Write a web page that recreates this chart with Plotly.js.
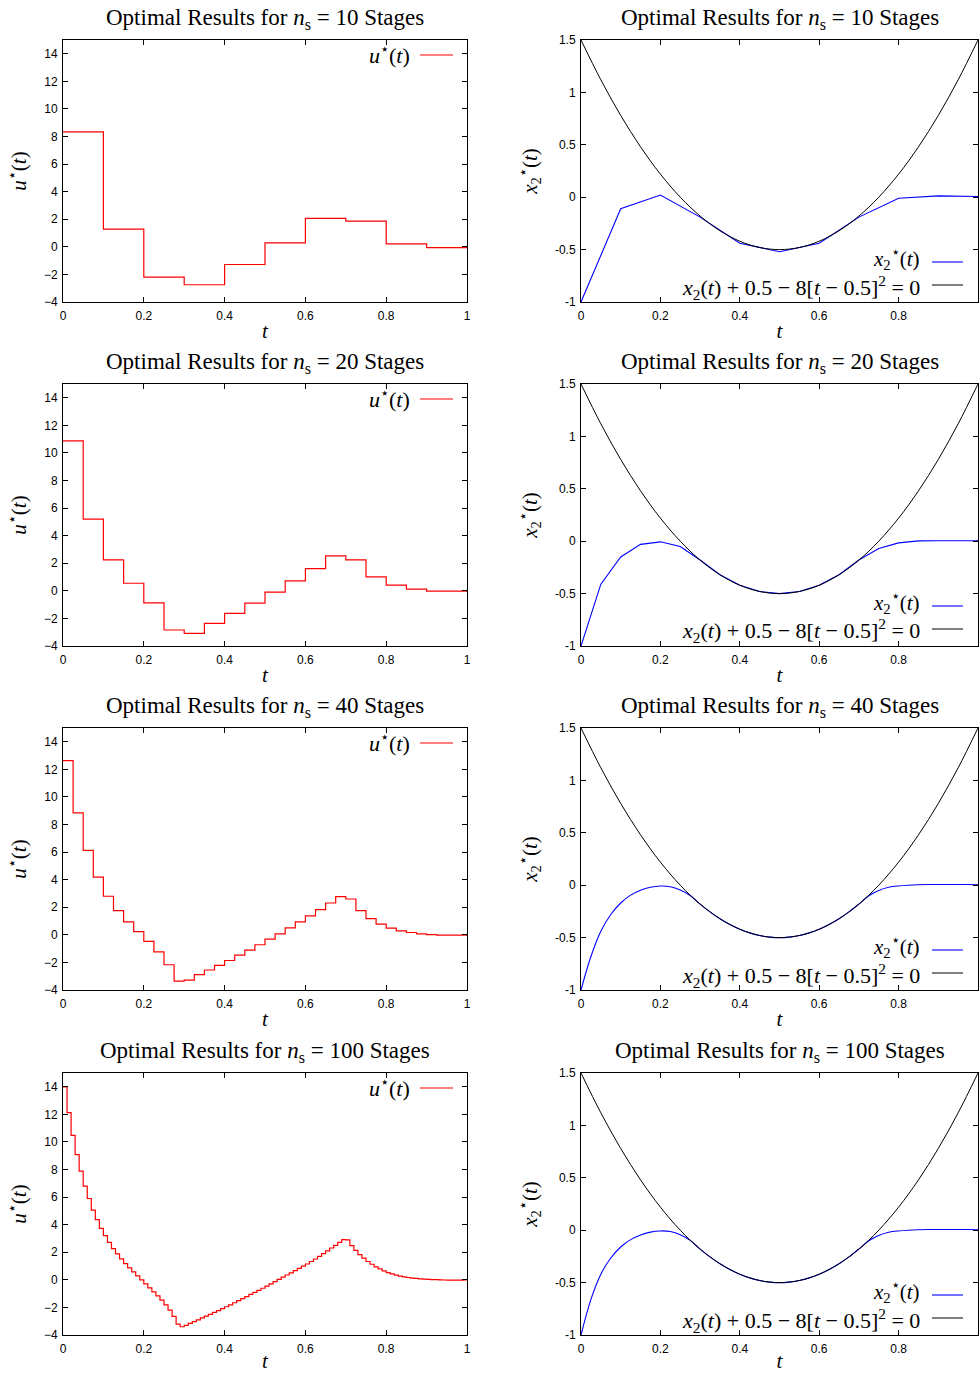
<!DOCTYPE html>
<html>
<head>
<meta charset="utf-8">
<script src="https://cdn.plot.ly/plotly-3.0.1.min.js"></script>
<style>
html,body{margin:0;padding:0;background:#fff;}
#chart{width:980px;height:1373px;}
</style>
</head>
<body>
<div id="chart"></div>
<script>
// ---------------- data ----------------
const stageCounts = [10, 20, 40, 100];

const u10 = [8.34, 1.28, -2.19, -2.75, -1.28, 0.29, 2.07, 1.86, 0.22, -0.05];

const u20 = [10.87, 5.2, 2.24, 0.55, -0.87, -2.84, -3.08, -2.36, -1.64, -0.89,
             -0.1, 0.72, 1.61, 2.53, 2.24, 1.01, 0.41, 0.12, -0.02, -0.02];

const u40 = [12.63, 8.84, 6.12, 4.19, 2.8, 1.76, 0.94, 0.24, -0.48, -1.23,
             -2.17, -3.35, -3.28, -2.89, -2.55, -2.22, -1.86, -1.47, -1.11, -0.72,
             -0.31, 0.07, 0.51, 0.94, 1.37, 1.83, 2.31, 2.77, 2.6, 1.76,
             1.18, 0.77, 0.48, 0.29, 0.17, 0.07, 0.02, -0.02, -0.02, -0.02];

const u100 = [14.0, 12.12, 10.48, 9.08, 7.88, 6.8, 5.9, 5.06, 4.36, 3.73,
              3.2, 2.72, 2.26, 1.88, 1.52, 1.18, 0.87, 0.58, 0.29, 0.0,
              -0.29, -0.58, -0.87, -1.16, -1.47, -1.81, -2.2, -2.65, -3.21, -3.4,
              -3.3, -3.16, -3.03, -2.9, -2.76, -2.63, -2.5, -2.36, -2.23, -2.09,
              -1.95, -1.81, -1.66, -1.51, -1.36, -1.21, -1.06, -0.91, -0.76, -0.61,
              -0.45, -0.29, -0.13, 0.03, 0.19, 0.35, 0.51, 0.67, 0.83, 0.99,
              1.15, 1.33, 1.51, 1.7, 1.9, 2.1, 2.31, 2.5, 2.72, 2.92,
              2.9, 2.48, 2.14, 1.83, 1.57, 1.33, 1.13, 0.94, 0.8, 0.65,
              0.53, 0.43, 0.34, 0.27, 0.22, 0.17, 0.13, 0.1, 0.07, 0.05,
              0.03, 0.02, 0.01, 0.0, -0.01, -0.02, -0.02, -0.02, -0.02, -0.01];

// x2*(t) at stage boundaries
const x2_10 = [-1, -0.11, 0.02, -0.19, -0.44, -0.52, -0.44, -0.19, -0.01, 0.013, 0.006];
const x2_20 = [-1, -0.41, -0.15, -0.03, -0.006, -0.05, -0.18, -0.32, -0.42, -0.48, -0.5,
               -0.48, -0.42, -0.32, -0.18, -0.07, -0.016, 0.003, 0.005, 0.005, 0.005];

// x2*(t) for finer discretisations, sampled every 0.025
const tFine = [0, 0.025, 0.05, 0.075, 0.1, 0.125, 0.15, 0.175, 0.2, 0.225,
               0.25, 0.275, 0.3, 0.325, 0.35, 0.375, 0.4, 0.425, 0.45, 0.475,
               0.5, 0.525, 0.55, 0.575, 0.6, 0.625, 0.65, 0.675, 0.7, 0.725,
               0.75, 0.775, 0.8, 0.825, 0.85, 0.875, 0.9, 0.925, 0.95, 0.975, 1.0];
const x2_40 = [-1, -0.68, -0.44, -0.28, -0.17, -0.095, -0.048, -0.02, -0.008, -0.014,
               -0.045, -0.098, -0.18, -0.255, -0.32, -0.375, -0.42, -0.455, -0.48, -0.495,
               -0.5, -0.495, -0.48, -0.455, -0.42, -0.375, -0.32, -0.255, -0.18, -0.1,
               -0.05, -0.02, -0.007, 0.0, 0.004, 0.006, 0.007, 0.007, 0.007, 0.006, 0.005];
const x2_100 = [-1, -0.66, -0.42, -0.265, -0.16, -0.09, -0.045, -0.018, -0.007, -0.013,
                -0.043, -0.097, -0.18, -0.255, -0.32, -0.375, -0.42, -0.455, -0.48, -0.495,
                -0.5, -0.495, -0.48, -0.455, -0.42, -0.375, -0.32, -0.255, -0.18, -0.1,
                -0.05, -0.02, -0.007, 0.0, 0.004, 0.006, 0.007, 0.007, 0.007, 0.006, 0.005];

// path constraint x2 = 8(t-0.5)^2 - 0.5, sampled every 0.05
const tCon = [0, 0.05, 0.1, 0.15, 0.2, 0.25, 0.3, 0.35, 0.4, 0.45, 0.5,
              0.55, 0.6, 0.65, 0.7, 0.75, 0.8, 0.85, 0.9, 0.95, 1.0];
const xCon = [1.5, 1.12, 0.78, 0.48, 0.22, 0, -0.18, -0.32, -0.42, -0.48, -0.5,
              -0.48, -0.42, -0.32, -0.18, 0, 0.22, 0.48, 0.78, 1.12, 1.5];

const xTicks = [0, 0.2, 0.4, 0.6, 0.8, 1];
const xTickText = ['0', '0.2', '0.4', '0.6', '0.8', '1'];
const uTicks = [-4, -2, 0, 2, 4, 6, 8, 10, 12, 14];
const x2Ticks = [-1, -0.5, 0, 0.5, 1, 1.5];
const x2TickText = ['-1', '-0.5', '0', '0.5', '1', '1.5'];

// ---------------- layout helpers ----------------
const W = 980, H = 1373;
const px = x => x / W;
const py = y => 1 - y / H;
const rowTop = [40, 384, 728, 1073];
const rowH = 262;
const leftX = [63, 467], rightX = [581, 978];

const uSeries = [u10, u20, u40, u100];
const tSeries = [null, null, tFine, tFine];
const x2Series = [x2_10, x2_20, x2_40, x2_100];

const serif = 'Liberation Serif, Times New Roman, serif';
const sans = 'Liberation Sans, Arial, sans-serif';

const traces = [];
const layout = {
  width: W, height: H,
  margin: {l: 0, r: 0, t: 0, b: 0},
  paper_bgcolor: '#fff', plot_bgcolor: '#fff',
  showlegend: false,
  annotations: [], shapes: []
};

function axisCommon(extra) {
  return Object.assign({
    showline: true, linecolor: '#000', linewidth: 1, mirror: 'allticks',
    ticks: 'inside', ticklen: 5, tickcolor: '#000', tickwidth: 1,
    showgrid: false, zeroline: false, fixedrange: true,
    tickfont: {family: sans, size: 12, color: '#000'}
  }, extra);
}

for (let r = 0; r < 4; r++) {
  const n = stageCounts[r];
  const top = rowTop[r], bot = top + rowH;
  const ia = 2 * r + 1, ib = 2 * r + 2;
  const yDom = [py(bot), py(top)];

  // stage grid
  const grid = [];
  for (let i = 0; i <= n; i++) grid.push(i / n);
  const uv = uSeries[r].concat([uSeries[r][n - 1]]);

  traces.push({
    x: grid, y: uv, type: 'scatter', mode: 'lines', line: {shape: 'hv', color: '#ff0000', width: 1.2},
    xaxis: 'x' + ia, yaxis: 'y' + ia, name: 'u*(t)', hoverinfo: 'skip'
  });

  const tx = tSeries[r] || grid;
  traces.push({
    x: tx, y: x2Series[r], type: 'scatter', mode: 'lines',
    line: {color: '#0000ff', width: 1.1, shape: tSeries[r] ? 'spline' : 'linear', smoothing: 1},
    xaxis: 'x' + ib, yaxis: 'y' + ib, name: 'x2*(t)', hoverinfo: 'skip'
  });
  traces.push({
    x: tCon, y: xCon, type: 'scatter', mode: 'lines',
    line: {color: '#000000', width: 1, shape: 'spline', smoothing: 1},
    xaxis: 'x' + ib, yaxis: 'y' + ib, name: 'constraint', hoverinfo: 'skip'
  });

  const xa = {
    range: [0, 1], tickvals: xTicks, ticktext: xTickText, ticklabelstandoff: 3,
    title: {text: '<i>t</i>', font: {family: serif, size: 21, color: '#000'}, standoff: 0}
  };
  layout['xaxis' + ia] = axisCommon(Object.assign({domain: [px(leftX[0]), px(leftX[1])], anchor: 'y' + ia}, xa));
  layout['xaxis' + ib] = axisCommon(Object.assign({domain: [px(rightX[0]), px(rightX[1])], anchor: 'y' + ib}, JSON.parse(JSON.stringify(xa))));
  layout['yaxis' + ia] = axisCommon({
    domain: yDom, anchor: 'x' + ia, range: [-4, 15], tickvals: uTicks, ticklabelstandoff: 2,
    title: {text: '<i>u</i><sup>⋆</sup>(<i>t</i>)', font: {family: serif, size: 21, color: '#000'}, standoff: 11}
  });
  layout['yaxis' + ib] = axisCommon({
    domain: yDom, anchor: 'x' + ib, range: [-1, 1.5], tickvals: x2Ticks, ticktext: x2TickText, ticklabelstandoff: 2,
    title: {text: '<i>x</i><sub>2</sub><sup>⋆</sup>(<i>t</i>)', font: {family: serif, size: 21, color: '#000'}, standoff: 11}
  });

  const titleText = 'Optimal Results for <i>n</i><sub>s</sub> = ' + n + ' Stages';
  [leftX, rightX].forEach(xr => {
    layout.annotations.push({
      xref: 'paper', yref: 'paper', x: px((xr[0] + xr[1]) / 2), y: py(top - 21),
      xanchor: 'center', yanchor: 'middle', showarrow: false,
      text: titleText, font: {family: serif, size: 23, color: '#000'}
    });
  });

  // legends (gnuplot style: text right-aligned, sample to the right)
  layout.annotations.push({
    xref: 'paper', yref: 'paper', x: px(412), y: py(top + 14), xanchor: 'right', yanchor: 'middle',
    showarrow: false, text: '<i>u</i><sup>⋆</sup>(<i>t</i>)', font: {family: serif, size: 22, color: '#000'}
  });
  layout.shapes.push({type: 'line', xref: 'paper', yref: 'paper', x0: px(420), x1: px(453),
    y0: py(top + 15), y1: py(top + 15), line: {color: '#ff0000', width: 1.2}});

  layout.annotations.push({
    xref: 'paper', yref: 'paper', x: px(922), y: py(top + 218), xanchor: 'right', yanchor: 'middle',
    showarrow: false, text: '<i>x</i><sub>2</sub><sup>⋆</sup>(<i>t</i>)', font: {family: serif, size: 21, color: '#000'}
  });
  layout.shapes.push({type: 'line', xref: 'paper', yref: 'paper', x0: px(932), x1: px(963),
    y0: py(top + 222), y1: py(top + 222), line: {color: '#0000ff', width: 1.1}});

  layout.annotations.push({
    xref: 'paper', yref: 'paper', x: px(922), y: py(top + 247), xanchor: 'right', yanchor: 'middle',
    showarrow: false,
    text: '<i>x</i><sub>2</sub>(<i>t</i>) + 0.5 − 8[<i>t</i> − 0.5]<sup>2</sup> = 0',
    font: {family: serif, size: 22, color: '#000'}
  });
  layout.shapes.push({type: 'line', xref: 'paper', yref: 'paper', x0: px(932), x1: px(963),
    y0: py(top + 245), y1: py(top + 245), line: {color: '#000000', width: 1}});
}

Plotly.newPlot('chart', traces, layout, {staticPlot: true, displayModeBar: false});
</script>
</body>
</html>
